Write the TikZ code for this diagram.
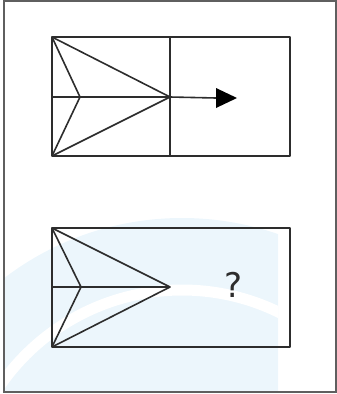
\documentclass[tikz,border=0pt]{standalone}
\usepackage{fontspec}
\newfontfamily\qfont{DejaVu Sans}
\definecolor{wmblue}{RGB}{236,246,252}
\definecolor{framegray}{RGB}{95,95,95}
\definecolor{linegray}{RGB}{45,45,45}
\tikzset{
  figline/.style={draw=linegray, line width=1.6pt, line join=round},
  frameline/.style={draw=framegray, line width=1.5pt},
  pt/.style={inner sep=0pt, minimum size=0pt}
}
\begin{document}
\begin{tikzpicture}[x=1pt,y=-1pt]
\useasboundingbox (0,0) rectangle (337,394);
% watermark
\begin{scope}
\clip (4,1) rectangle (278,392);
\fill[wmblue] (182,511) circle[radius=293];
\draw[white, line width=11pt] (182,511) circle[radius=221];
\end{scope}
% outer frame
\draw[frameline] (4,1) rectangle (336,392);
% top figure
\coordinate (tl) at (52,37);
\coordinate (bl) at (52,156);
\coordinate (br) at (290,156);
\coordinate (ml) at (52,97);
\coordinate (apex) at (170,97);
\coordinate (inn) at (80,97);
\coordinate (dtop) at (170,37);
\coordinate (dbot) at (170,156);
\coordinate (base) at (216,98);
\coordinate (btop) at (216,88);
\coordinate (bbot) at (216,108);
\coordinate (tip) at (237,98);
\draw[figline] (tl) rectangle (br);
\draw[figline] (dtop) -- (dbot);
\draw[figline] (ml) -- (apex);
\draw[figline] (tl) -- (apex) -- (bl);
\draw[figline] (tl) -- (inn) -- (bl);
\draw[figline] (apex) -- (base);
\fill[black] (btop) -- (tip) -- (bbot) -- cycle;
% bottom figure
\coordinate (tl2) at (52,228);
\coordinate (bl2) at (52,347);
\coordinate (br2) at (290,347);
\coordinate (ml2) at (52,287);
\coordinate (apex2) at (170,287);
\coordinate (inn2) at (81,287);
\draw[figline] (tl2) rectangle (br2);
\draw[figline] (ml2) -- (apex2);
\draw[figline] (tl2) -- (apex2) -- (bl2);
\draw[figline] (tl2) -- (inn2) -- (bl2);
\node[pt, text=linegray, font=\qfont\fontsize{34}{34}\selectfont] (q) at (234,285) {?};
\end{tikzpicture}
\end{document}
